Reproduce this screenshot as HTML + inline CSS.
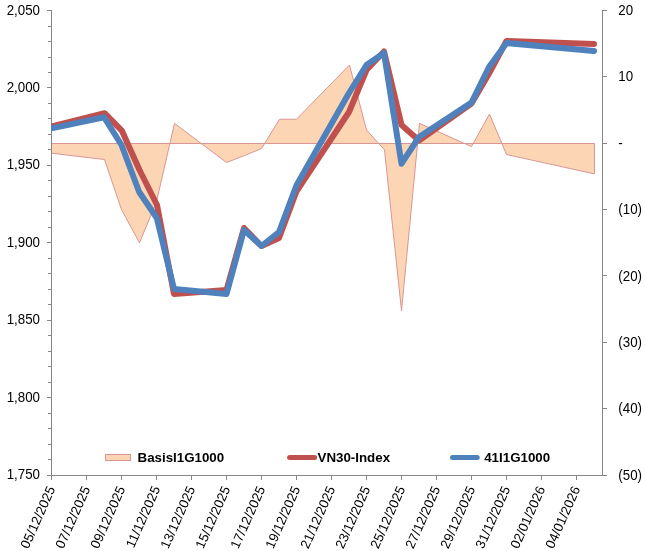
<!DOCTYPE html>
<html><head><meta charset="utf-8"><title>Chart</title>
<style>
html,body{margin:0;padding:0;background:#fff;overflow:hidden;}
svg{display:block;font-family:"Liberation Sans",sans-serif;font-size:13.33px;fill:#000;}
.ax{stroke:#868686;stroke-width:1;fill:none;shape-rendering:crispEdges;}
.b{font-weight:bold;}
</style></head><body>
<svg width="645" height="551" viewBox="0 0 645 551">
<rect width="645" height="551" fill="#fff"/>
<defs><clipPath id="cp"><rect x="51" y="10" width="552" height="466"/></clipPath></defs>
<path d="M51.50,143.50 L51.50,153.22 L104.50,159.52 L121.50,209.61 L139.50,242.79 L156.50,201.65 L174.50,123.36 L226.50,162.50 L244.50,155.54 L261.50,148.57 L279.50,119.24 L296.50,119.24 L349.50,64.97 L366.50,129.99 L384.50,149.90 L401.50,310.80 L419.50,123.36 L471.50,146.58 L489.50,114.07 L506.50,154.54 L594.50,173.92 L594.50,143.50 Z" fill="#FCD5B5" stroke="#D99694" stroke-width="1" stroke-linejoin="miter"/>
<path class="ax" d="M51.5,10V476M602.5,10V476M47,475.5H607M47,10.5H51.5M48,26.5H51.5M48,41.5H51.5M48,57.5H51.5M48,72.5H51.5M47,87.5H51.5M48,103.5H51.5M48,118.5H51.5M48,134.5H51.5M48,149.5H51.5M47,165.5H51.5M48,180.5H51.5M48,196.5H51.5M48,211.5H51.5M48,227.5H51.5M47,242.5H51.5M48,258.5H51.5M48,273.5H51.5M48,289.5H51.5M48,304.5H51.5M47,320.5H51.5M48,335.5H51.5M48,351.5H51.5M48,366.5H51.5M48,382.5H51.5M47,397.5H51.5M48,413.5H51.5M48,428.5H51.5M48,444.5H51.5M48,459.5H51.5M47,475.5H51.5M602.5,10.5H607M602.5,76.5H607M602.5,143.5H607M602.5,209.5H607M602.5,275.5H607M602.5,342.5H607M602.5,408.5H607M602.5,475.5H607M51.5,476V480M86.5,476V480M121.5,476V480M156.5,476V480M191.5,476V480M226.5,476V480M261.5,476V480M296.5,476V480M331.5,476V480M366.5,476V480M401.5,476V480M436.5,476V480M471.5,476V480M506.5,476V480M541.5,476V480M576.5,476V480"/>
<polyline points="51.50,126.40 104.60,113.20 121.80,130.60 139.50,170.00 157.00,205.00 174.00,294.00 226.50,290.00 244.00,228.00 261.50,246.00 279.00,238.00 296.50,191.30 349.00,112.00 366.50,70.00 384.00,51.50 401.50,125.00 419.00,140.50 471.50,103.50 489.00,73.50 506.50,41.00 594.00,44.00" fill="none" stroke="#C0504D" stroke-width="6" stroke-linecap="round" stroke-linejoin="round" clip-path="url(#cp)"/>
<polyline points="51.50,128.40 104.00,117.20 121.50,145.00 139.20,192.00 156.80,218.00 174.00,289.00 226.50,294.00 244.00,230.00 261.50,246.00 279.00,232.00 296.50,185.30 349.00,93.00 366.50,65.00 384.00,53.00 401.50,163.70 419.00,137.00 471.50,102.60 489.00,67.00 506.50,43.00 594.00,51.00" fill="none" stroke="#4F81BD" stroke-width="6" stroke-linecap="round" stroke-linejoin="round" clip-path="url(#cp)"/>
<text transform="translate(40,14.6) scale(1,1.1)" text-anchor="end">2,050</text>
<text transform="translate(40,92.0) scale(1,1.1)" text-anchor="end">2,000</text>
<text transform="translate(40,169.4) scale(1,1.1)" text-anchor="end">1,950</text>
<text transform="translate(40,246.8) scale(1,1.1)" text-anchor="end">1,900</text>
<text transform="translate(40,324.2) scale(1,1.1)" text-anchor="end">1,850</text>
<text transform="translate(40,401.6) scale(1,1.1)" text-anchor="end">1,800</text>
<text transform="translate(40,479.0) scale(1,1.1)" text-anchor="end">1,750</text>
<text transform="translate(618.3,15.1) scale(1,1.1)">20</text>
<text transform="translate(618.3,81.4) scale(1,1.1)">10</text>
<text transform="translate(618.3,147.6) scale(1,1.1)">-</text>
<text transform="translate(618.3,214.1) scale(1,1.1)">(10)</text>
<text transform="translate(618.3,280.5) scale(1,1.1)">(20)</text>
<text transform="translate(618.3,346.8) scale(1,1.1)">(30)</text>
<text transform="translate(618.3,413.2) scale(1,1.1)">(40)</text>
<text transform="translate(618.3,479.5) scale(1,1.1)">(50)</text>
<text transform="translate(55.5,488.6) rotate(-66)" text-anchor="end">05/12/2025</text>
<text transform="translate(90.5,488.6) rotate(-66)" text-anchor="end">07/12/2025</text>
<text transform="translate(125.5,488.6) rotate(-66)" text-anchor="end">09/12/2025</text>
<text transform="translate(160.5,488.6) rotate(-66)" text-anchor="end">11/12/2025</text>
<text transform="translate(195.5,488.6) rotate(-66)" text-anchor="end">13/12/2025</text>
<text transform="translate(230.5,488.6) rotate(-66)" text-anchor="end">15/12/2025</text>
<text transform="translate(265.5,488.6) rotate(-66)" text-anchor="end">17/12/2025</text>
<text transform="translate(300.5,488.6) rotate(-66)" text-anchor="end">19/12/2025</text>
<text transform="translate(335.5,488.6) rotate(-66)" text-anchor="end">21/12/2025</text>
<text transform="translate(370.5,488.6) rotate(-66)" text-anchor="end">23/12/2025</text>
<text transform="translate(405.5,488.6) rotate(-66)" text-anchor="end">25/12/2025</text>
<text transform="translate(440.5,488.6) rotate(-66)" text-anchor="end">27/12/2025</text>
<text transform="translate(475.5,488.6) rotate(-66)" text-anchor="end">29/12/2025</text>
<text transform="translate(510.5,488.6) rotate(-66)" text-anchor="end">31/12/2025</text>
<text transform="translate(545.5,488.6) rotate(-66)" text-anchor="end">02/01/2026</text>
<text transform="translate(580.5,488.6) rotate(-66)" text-anchor="end">04/01/2026</text>
<rect x="105.5" y="454.5" width="25" height="6" fill="#FCD5B5" stroke="#D99694" stroke-width="1"/>
<text class="b" x="137.5" y="461.6">BasisI1G1000</text>
<line x1="289.6" y1="457.5" x2="314.6" y2="457.5" stroke="#C0504D" stroke-width="5" stroke-linecap="round"/>
<text class="b" x="317.5" y="461.6">VN30-Index</text>
<line x1="452.5" y1="457.5" x2="477.2" y2="457.5" stroke="#4F81BD" stroke-width="5" stroke-linecap="round"/>
<text class="b" x="484.2" y="461.6">41I1G1000</text>
</svg></body></html>
